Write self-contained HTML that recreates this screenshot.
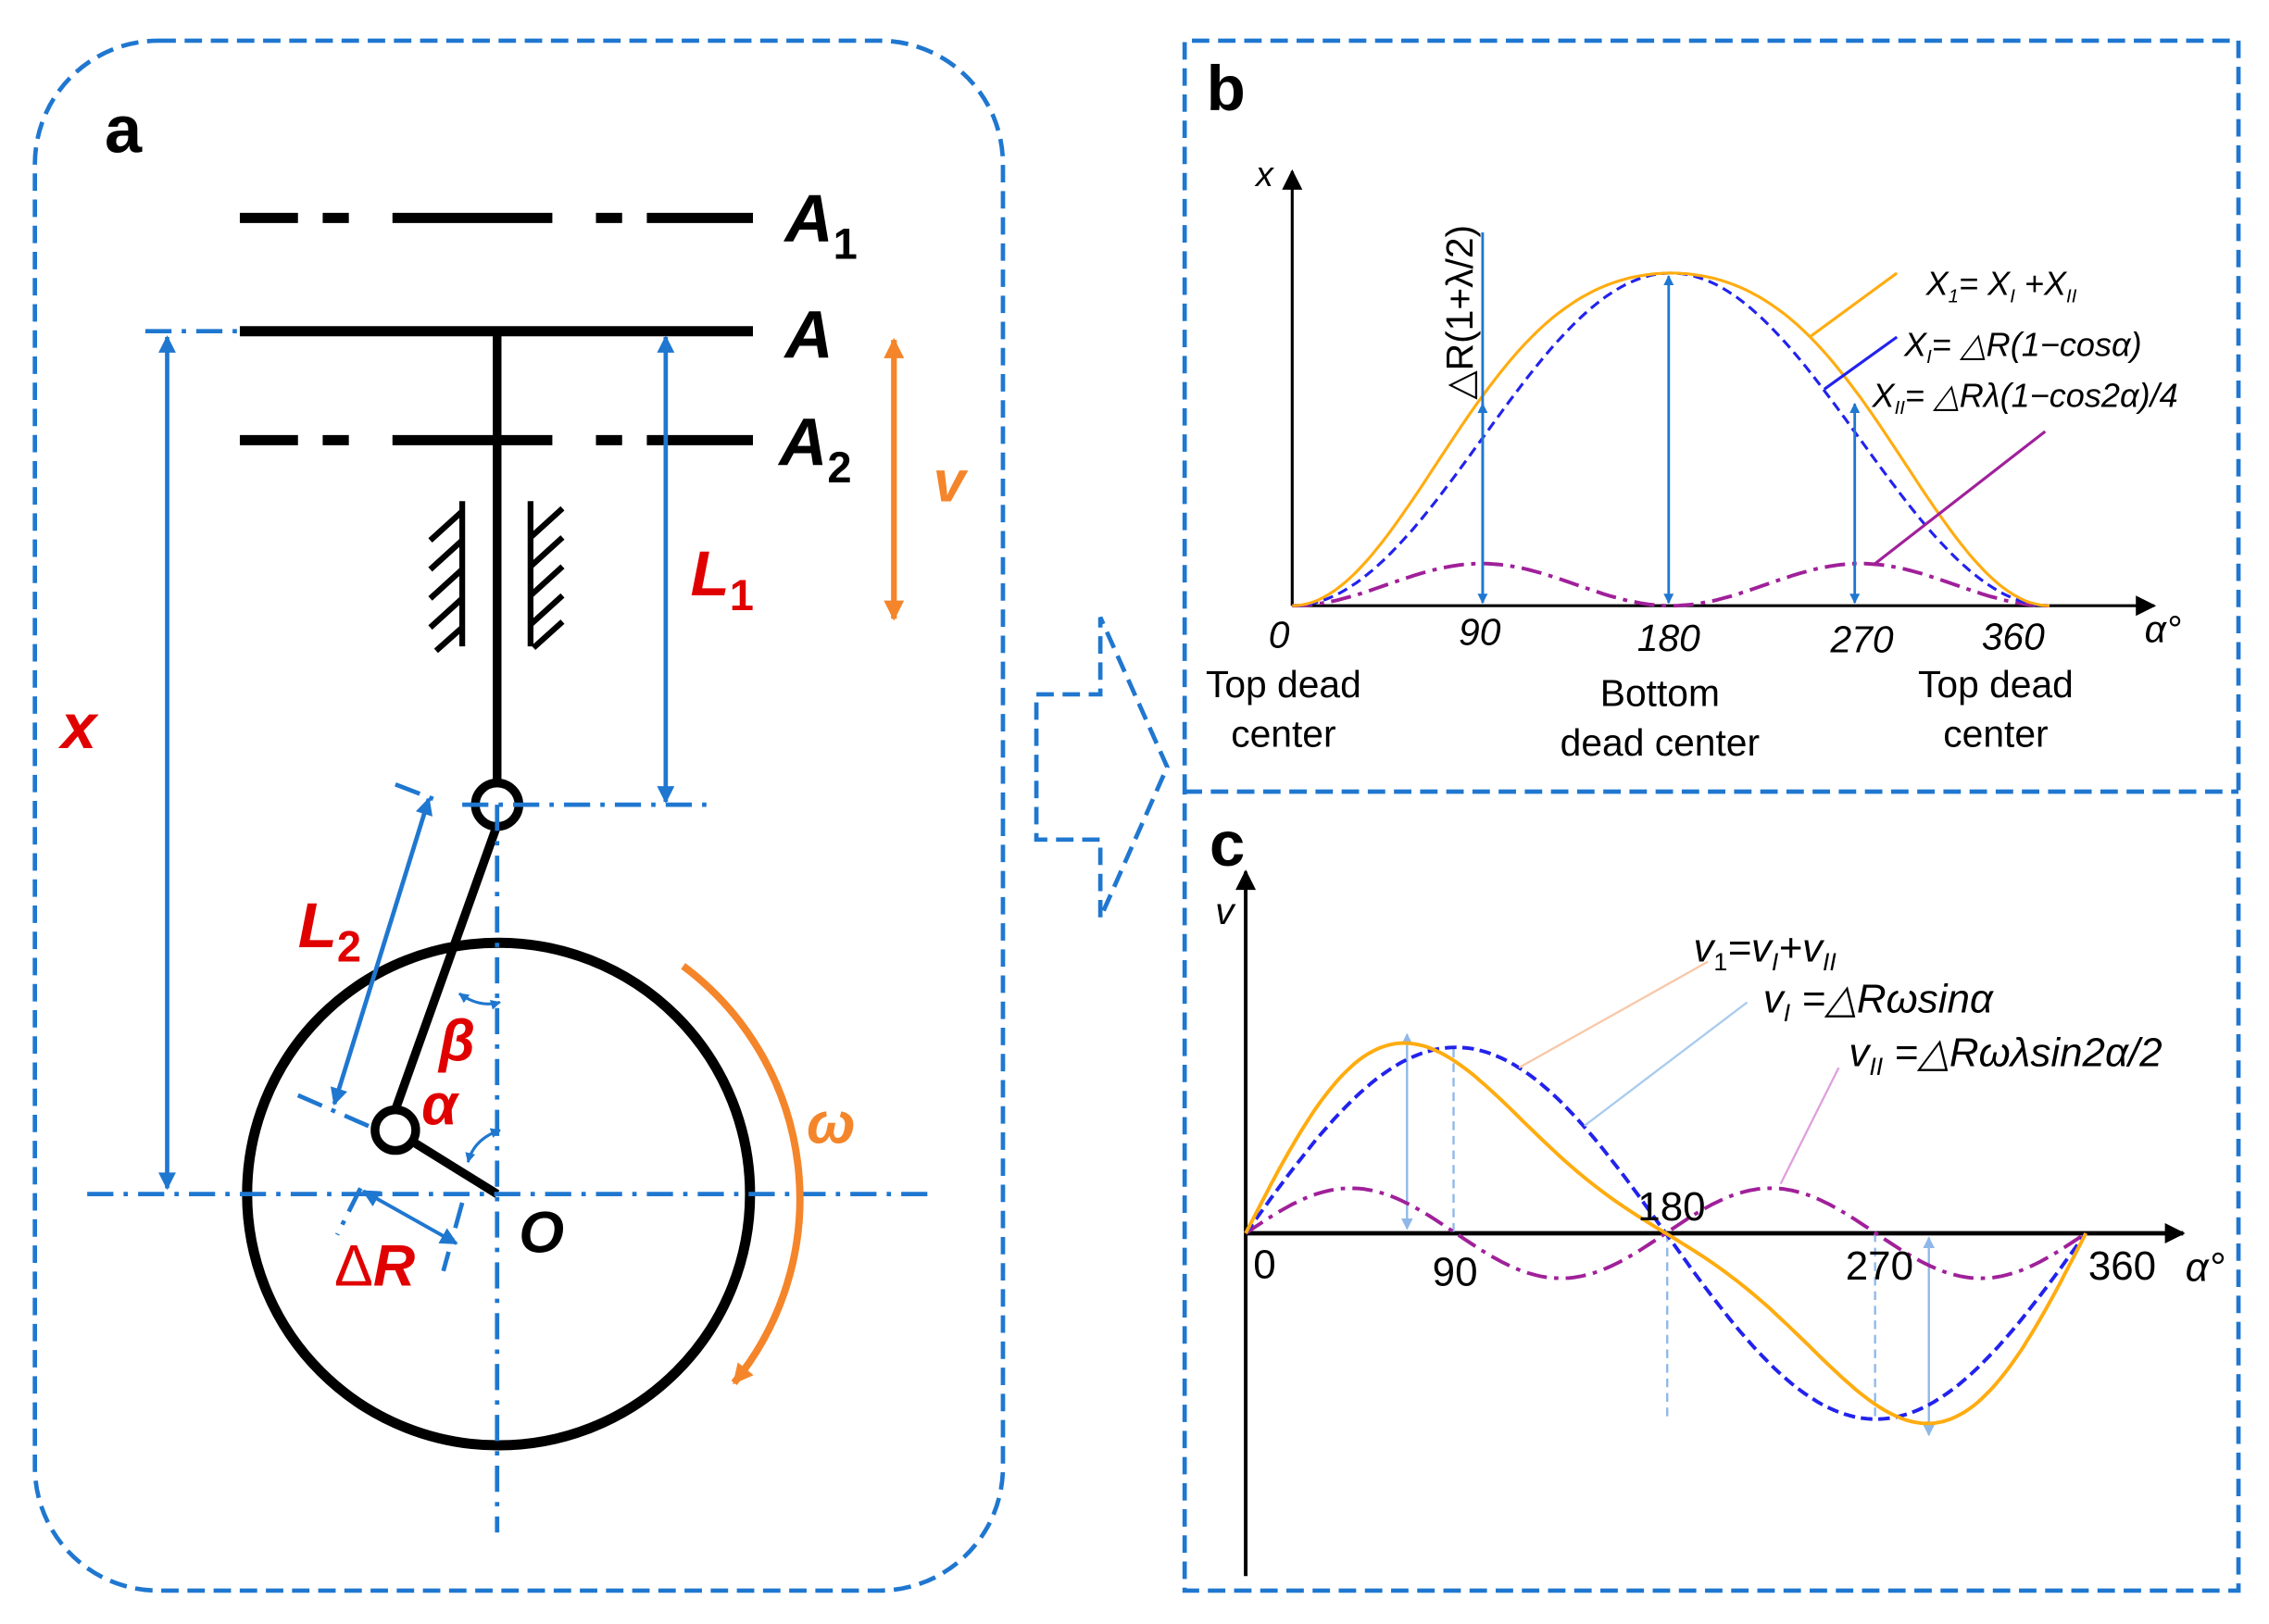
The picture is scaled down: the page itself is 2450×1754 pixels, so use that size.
<!DOCTYPE html>
<html><head><meta charset="utf-8"><style>
html,body{margin:0;padding:0;background:#fff}
svg{display:block}
text{font-family:"Liberation Sans",Arial,sans-serif}
</style></head><body>
<svg id="s" width="2450" height="1754" viewBox="0 0 1561 1118" preserveAspectRatio="none" xmlns="http://www.w3.org/2000/svg">
<defs>
<marker id="bl" viewBox="0 0 10 10" refX="9" refY="5" markerWidth="7" markerHeight="7" orient="auto-start-reverse" markerUnits="userSpaceOnUse"><path d="M0,0L10,5L0,10z" fill="#1f77d0"/></marker>
<marker id="bls" viewBox="0 0 10 10" refX="9" refY="5" markerWidth="16" markerHeight="12" orient="auto-start-reverse" markerUnits="userSpaceOnUse"><path d="M0,0L10,5L0,10z" fill="#1f77d0"/></marker>
<marker id="or" viewBox="0 0 10 10" refX="9" refY="5" markerWidth="20" markerHeight="14" orient="auto-start-reverse" markerUnits="userSpaceOnUse"><path d="M0,0L10,5L0,10z" fill="#f5852a"/></marker>
<marker id="bk" viewBox="0 0 10 10" refX="9" refY="5" markerWidth="22" markerHeight="14" orient="auto" markerUnits="userSpaceOnUse"><path d="M0,0L10,5L0,10z" fill="#000"/></marker>
<marker id="lb" viewBox="0 0 10 10" refX="9" refY="5" markerWidth="8" markerHeight="8" orient="auto-start-reverse" markerUnits="userSpaceOnUse"><path d="M0,0L10,5L0,10z" fill="#8fb8e8"/></marker>
</defs>
<!-- panel frames -->
<rect x="24" y="28" width="666" height="1067" rx="85" fill="none" stroke="#1f77d0" stroke-width="3" stroke-dasharray="12,6"/>
<path d="M815,545V28H1540V1095H815V545" fill="none" stroke="#1f77d0" stroke-width="3" stroke-dasharray="12,6"/>
<path d="M815,545H1540" fill="none" stroke="#1f77d0" stroke-width="3" stroke-dasharray="12,6"/>
<polygon points="713,478 757,478 757,425 803,528 757,632 757,578 713,578" fill="none" stroke="#1f77d0" stroke-width="3" stroke-dasharray="12,6"/>

<!-- panel a -->
<text x="72" y="105" font-size="46" font-weight="bold">a</text>
<g stroke="#000" stroke-width="7">
<path d="M165,150H205M222,150H240M270,150H380M410,150H428M445,150H518"/>
<path d="M165,228H518"/>
<path d="M165,303H205M222,303H240M270,303H380M410,303H428M445,303H518"/>
<path d="M342,228V540" stroke-width="6"/>
<path d="M342,568L272,764" stroke-width="6"/>
<path d="M284,786L342,822" stroke-width="6"/>
</g>
<g stroke="#000" stroke-width="4">
<path d="M318,345V445M365,345V445"/>
<path d="M318,352L296,372M318,372L296,392M318,392L296,412M318,412L296,432M318,432L300,448"/>
<path d="M387,350L365,370M387,370L365,390M387,390L365,410M387,410L365,430M387,428L367,446"/>
</g>
<circle cx="342" cy="554" r="15" fill="#fff" stroke="#000" stroke-width="6"/>
<circle cx="343" cy="822" r="173" fill="none" stroke="#000" stroke-width="7"/>
<circle cx="272" cy="778" r="14" fill="#fff" stroke="#000" stroke-width="6"/>
<g stroke="#1f77d0" stroke-width="3" fill="none" stroke-dasharray="18,7,3,7">
<path d="M100,228H165"/>
<path d="M318,554H487"/>
<path d="M60,822H640"/>
<path d="M342,554V1055"/>
<path d="M272,540L298,550M205,754L260,778"/>
<path d="M248,818L232,850M318,828L305,875"/>
</g>
<g stroke="#1f77d0" stroke-width="3">
<path d="M115,232V818" marker-start="url(#bls)" marker-end="url(#bls)"/>
<path d="M458,232V552" marker-start="url(#bls)" marker-end="url(#bls)"/>
<path d="M295,550L230,760" marker-start="url(#bls)" marker-end="url(#bls)"/>
<path d="M250,820L314,856" marker-start="url(#bls)" marker-end="url(#bls)" stroke-width="2.5"/>
<path d="M316,684Q330,694 344,690" fill="none" marker-start="url(#bl)" marker-end="url(#bl)" stroke-width="2"/>
<path d="M322,800Q326,784 344,778" fill="none" marker-start="url(#bl)" marker-end="url(#bl)" stroke-width="2"/>
</g>
<path d="M615,234V426" stroke="#f5852a" stroke-width="4" marker-start="url(#or)" marker-end="url(#or)"/>
<path d="M470,665A200,200 0 0 1 505,952" fill="none" stroke="#f5852a" stroke-width="5" marker-end="url(#or)"/>
<g font-weight="bold" font-style="italic">
<text x="540" y="166" font-size="46">A<tspan font-size="30" dy="12" font-style="normal">1</tspan></text>
<text x="540" y="246" font-size="46">A</text>
<text x="536" y="320" font-size="46">A<tspan font-size="30" dy="12" font-style="normal">2</tspan></text>
<text x="42" y="515" font-size="44" fill="#e00000">x</text>
<text x="475" y="410" font-size="44" fill="#e00000">L<tspan font-size="30" dy="10" font-style="normal">1</tspan></text>
<text x="205" y="652" font-size="44" fill="#e00000">L<tspan font-size="30" dy="10" font-style="normal">2</tspan></text>
<text x="642" y="345" font-size="40" fill="#f5852a">v</text>
<text x="555" y="787" font-size="40" fill="#f5852a">ω</text>
<text x="302" y="730" font-size="40" fill="#e00000">β</text>
<text x="290" y="774" font-size="40" fill="#e00000">α</text>
<text x="357" y="862" font-size="40">O</text>
<text x="230" y="885" font-size="40" fill="#e00000"><tspan font-style="normal" font-weight="normal">Δ</tspan>R</text>
</g>

<!-- panel b -->
<text x="830" y="76" font-size="44" font-weight="bold">b</text>
<path d="M889,417V118" stroke="#000" stroke-width="2" marker-end="url(#bk)"/>
<path d="M889,417H1482" stroke="#000" stroke-width="2" marker-end="url(#bk)"/>
<text x="864" y="128" font-size="24" font-style="italic">x</text>
<path id="b2" fill="none" stroke="#a0209a" stroke-width="2.5" stroke-dasharray="14,5,3,5"/>
<path id="b1" fill="none" stroke="#2222ee" stroke-width="2" stroke-dasharray="7,4"/>
<path id="b0" fill="none" stroke="#ffac10" stroke-width="2"/>
<g stroke="#1f77d0" stroke-width="1.8">
<path d="M1020,160V415" marker-end="url(#bl)"/>
<path d="M1020,415V278" marker-end="url(#bl)"/>
<path d="M1148,190V415" marker-start="url(#bl)" marker-end="url(#bl)"/>
<path d="M1276,278V415" marker-start="url(#bl)" marker-end="url(#bl)"/>
</g>
<text transform="translate(1013,215) rotate(-90)" font-size="26" text-anchor="middle">△R(1+λ/2)</text>
<path d="M1305,188L1245,232" stroke="#ffac10" stroke-width="2"/>
<path d="M1305,232L1255,268" stroke="#2222ee" stroke-width="2"/>
<path d="M1407,297L1290,388" stroke="#a0209a" stroke-width="2"/>
<g font-size="23" font-style="italic">
<text x="1325" y="203">X<tspan font-size="13" dy="5">1</tspan><tspan dy="-5">= X</tspan><tspan font-size="13" dy="5">I</tspan><tspan dy="-5"> +X</tspan><tspan font-size="13" dy="5">II</tspan></text>
<text x="1310" y="245">X<tspan font-size="13" dy="5">I</tspan><tspan dy="-5">= △R(1−cosα)</tspan></text>
<text x="1288" y="280">X<tspan font-size="13" dy="5">II</tspan><tspan dy="-5">= △Rλ(1−cos2α)/4</tspan></text>
</g>
<g font-size="26" font-style="italic" text-anchor="middle">
<text x="880" y="446">0</text><text x="1018" y="444">90</text><text x="1148" y="448">180</text><text x="1281" y="449">270</text><text x="1385" y="447">360</text><text x="1488" y="442">α°</text>
</g>
<g font-size="26" text-anchor="middle">
<text x="883" y="480">Top dead</text><text x="883" y="514">center</text>
<text x="1142" y="486">Bottom</text><text x="1142" y="520">dead center</text>
<text x="1373" y="480">Top dead</text><text x="1373" y="514">center</text>
</g>

<!-- panel c -->
<text x="832" y="596" font-size="44" font-weight="bold">c</text>
<path d="M857,1085V600" stroke="#000" stroke-width="2.5" marker-end="url(#bk)"/>
<path d="M857,849H1502" stroke="#000" stroke-width="3" marker-end="url(#bk)"/>
<text x="836" y="636" font-size="26" font-style="italic">v</text>
<g stroke-width="1.5" fill="none">
<path d="M968,712V846" stroke="#8fb8e8" marker-start="url(#lb)" marker-end="url(#lb)"/>
<path d="M1000,722V849" stroke="#8fb8e8" stroke-dasharray="6,4"/>
<path d="M1147,849V978" stroke="#8fb8e8" stroke-dasharray="6,4"/>
<path d="M1290,849V978" stroke="#8fb8e8" stroke-dasharray="6,4"/>
<path d="M1327,852V988" stroke="#8fb8e8" marker-start="url(#lb)" marker-end="url(#lb)"/>
</g>
<path id="c2" fill="none" stroke="#a0209a" stroke-width="2.5" stroke-dasharray="14,5,3,5"/>
<path id="c1" fill="none" stroke="#2222ee" stroke-width="2.5" stroke-dasharray="8,4"/>
<path id="c0" fill="none" stroke="#ffac10" stroke-width="2.5"/>
<path d="M1175,662L1045,735" stroke="#f8c8a8" stroke-width="1.5"/>
<path d="M1202,690L1090,775" stroke="#aaccee" stroke-width="1.5"/>
<path d="M1265,735L1225,815" stroke="#e0a0e0" stroke-width="1.5"/>
<g font-size="28" font-style="italic">
<text x="1165" y="662">v<tspan font-size="17" dy="6" font-style="normal">1</tspan><tspan dy="-6">=v</tspan><tspan font-size="17" dy="6">I</tspan><tspan dy="-6">+v</tspan><tspan font-size="17" dy="6">II</tspan></text>
<text x="1213" y="697">v<tspan font-size="17" dy="6">I</tspan><tspan dy="-6"> =△Rωsinα</tspan></text>
<text x="1272" y="734">v<tspan font-size="17" dy="6">II</tspan><tspan dy="-6"> =△Rωλsin2α/2</tspan></text>
</g>
<g font-size="28" text-anchor="middle">
<text x="870" y="880">0</text><text x="1001" y="885">90</text><text x="1150" y="840">180</text><text x="1293" y="881">270</text><text x="1460" y="881">360</text><text x="1517" y="882" font-style="italic">α°</text>
</g>
</svg>
<script>
function mk(f,x0,x1,n){var d="";for(var i=0;i<=n;i++){var a=i/n*2*Math.PI;var p=f(a);d+=(i?"L":"M")+(x0+(x1-x0)*i/n).toFixed(1)+","+p.toFixed(1);}return d;}
var B0=417;
document.getElementById("b0").setAttribute("d",mk(function(a){return B0-(114.5*(1-Math.cos(a))+14.5*(1-Math.cos(2*a)));},889,1410,200));
document.getElementById("b1").setAttribute("d",mk(function(a){return B0-114.5*(1-Math.cos(a));},889,1410,200));
document.getElementById("b2").setAttribute("d",mk(function(a){return B0-14.5*(1-Math.cos(2*a));},889,1410,200));
var C0=849;
document.getElementById("c0").setAttribute("d",mk(function(a){return C0-(118*Math.sin(a)+31*Math.sin(2*a));},857,1435,200));
document.getElementById("c1").setAttribute("d",mk(function(a){return C0-128*Math.sin(a);},857,1435,200));
document.getElementById("c2").setAttribute("d",mk(function(a){return C0-31*Math.sin(2*a);},857,1435,200));
</script>
</body></html>
